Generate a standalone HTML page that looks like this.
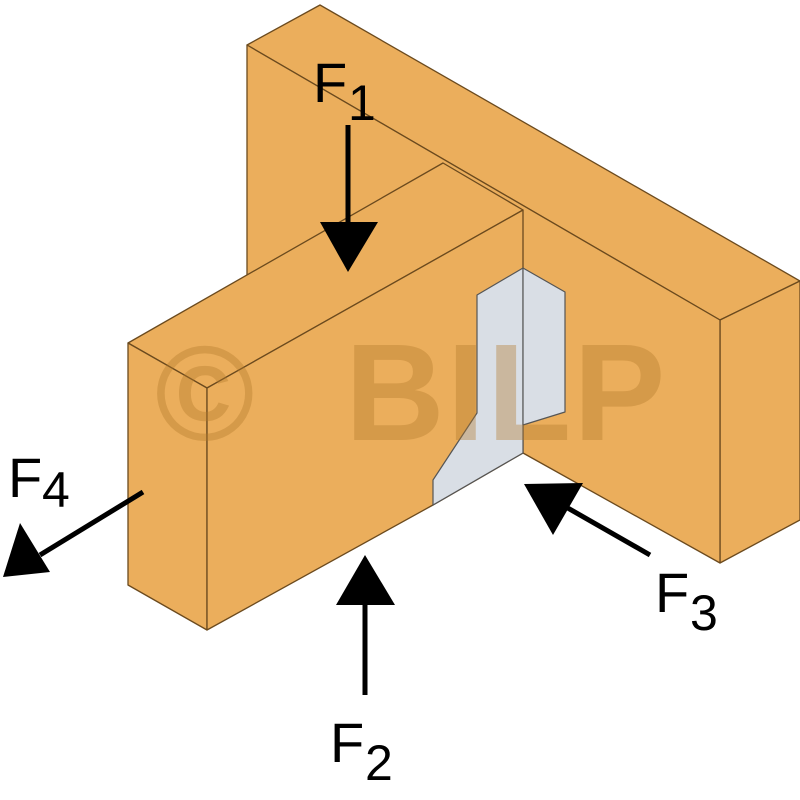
<!DOCTYPE html>
<html><head><meta charset="utf-8"><style>html,body{margin:0;padding:0;background:#fff}svg{display:block}</style></head>
<body>
<svg width="800" height="800" viewBox="0 0 800 800" xmlns="http://www.w3.org/2000/svg">
<g stroke="#6b4a1e" stroke-width="1.3" stroke-linejoin="round" fill="#EBAE5C">
<polygon points="247,45 320,5 800,281 720,320"/>
<polygon points="720,320 800,281 800,520 720,563"/>
<polygon points="247,45 720,320 720,563 523,453 247,300"/>
<polygon points="128,343 443,163 523,210 207,388"/>
<polygon points="128,343 207,388 207,630 128,585"/>
<polygon points="207,388 523,210 523,453 433,505 207,630"/>
</g>
<g stroke="#555" stroke-width="1.2" fill="#D9DEE5" stroke-linejoin="round">
<polygon points="477,295 523,268 523,453 433,505 433,480 477,413"/>
<polygon points="523,268 565,292 565,412 523,425"/>
</g>
<text x="155" y="440" font-family="Liberation Sans, sans-serif" font-weight="bold" font-size="135" fill="#b47a2a" fill-opacity="0.38">©</text>
<text x="345" y="440" font-family="Liberation Sans, sans-serif" font-weight="bold" font-size="138" fill="#b47a2a" fill-opacity="0.38" letter-spacing="2">BILP</text>
<g stroke="#000" stroke-width="5" fill="none">
<line x1="348" y1="125" x2="348" y2="225"/>
<line x1="365" y1="600" x2="365" y2="695"/>
<line x1="650" y1="555" x2="545" y2="495"/>
<line x1="143" y1="492" x2="40" y2="555"/>
</g>
<g fill="#000">
<polygon points="320,222 378,222 348,272"/>
<polygon points="336,605 395,605 365,555"/>
<polygon points="524,484 583,483 553,535"/>
<polygon points="3,577 20,523 50,572"/>
</g>
<g font-family="Liberation Sans, sans-serif" font-size="56" fill="#000">
<text x="313" y="102">F</text><text x="348" y="120" font-size="50">1</text>
<text x="8" y="497">F</text><text x="42" y="507" font-size="50">4</text>
<text x="330" y="762">F</text><text x="365" y="780" font-size="50">2</text>
<text x="655" y="612">F</text><text x="690" y="630" font-size="50">3</text>
</g>
</svg>
</body></html>
